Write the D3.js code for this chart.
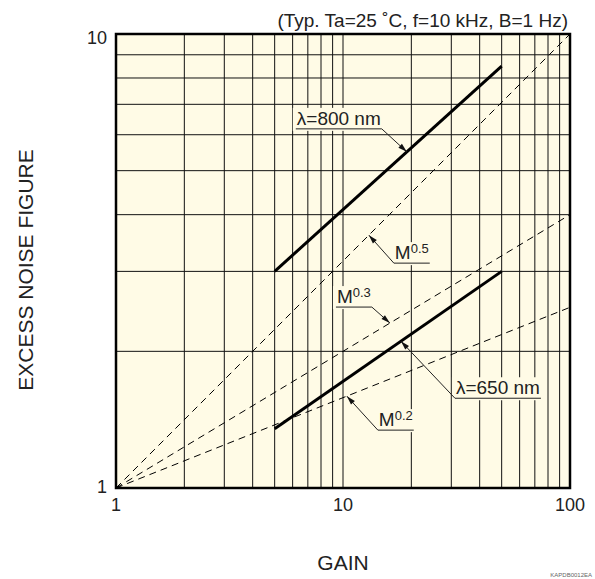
<!DOCTYPE html>
<html>
<head>
<meta charset="utf-8">
<script src="https://cdn.jsdelivr.net/npm/d3@7"></script>
<style>
body { margin: 0; background: #fff; }
svg { display: block; font-family: "Liberation Sans", Arial, sans-serif; }
</style>
</head>
<body>
<div id="chart"></div>
<script>
var gainTicks = [1, 10, 100];
var noiseTicks = [1, 10];
var gainGrid = [2, 3, 4, 5, 6, 7, 8, 9, 20, 30, 40, 50, 60, 70, 80, 90];
var noiseGrid = [2, 3, 4, 5, 6, 7, 8, 9];

// measured curves (gain -> excess noise figure)
var lineGain = [5, 50];
var noise800 = [3.0, 8.5];
var noise650 = [1.35, 3.0];

// reference curves M^x
var refGain = [1, 100];
var noiseM05 = [1, 10];
var noiseM03 = [1, 4.0];
var noiseM02 = [1, 2.5];

var width = 595,
    height = 579,
    margin = {top: 34, right: 25, bottom: 91, left: 116};
var plotW = width - margin.left - margin.right,
    plotH = height - margin.top - margin.bottom;

var BG = "#fffbe6";

var xScale = d3.scaleLog().domain([1, 100]).range([0, plotW]);
var yScale = d3.scaleLog().domain([1, 10]).range([plotH, 0]);

function pairs(gains, values) {
    return gains.map(function(g, i) { return {g: g, f: values[i]}; });
}

var curves = {
    "800": pairs(lineGain, noise800),
    "650": pairs(lineGain, noise650),
    "m05": pairs(refGain, noiseM05),
    "m03": pairs(refGain, noiseM03),
    "m02": pairs(refGain, noiseM02)
};

// label layout: where the arrow touches a curve, and text offset from there (px)
var notes = [
    {key: "800", main: "λ=800 nm", sup: "", gain: 19.1, dx: -110, dy: -27, side: "right"},
    {key: "m05", main: "M", sup: "0.5", gain: 13.0, dx: 26, dy: 24, side: "left"},
    {key: "m03", main: "M", sup: "0.3", gain: 16.1, dx: -53, dy: -20, side: "right"},
    {key: "650", main: "λ=650 nm", sup: "", gain: 18.0, dx: 55, dy: 53, side: "left"},
    {key: "m02", main: "M", sup: "0.2", gain: 10.4, dx: 32, dy: 30, side: "left"}
];

var line = d3.line()
    .x(function(d) { return xScale(d.g); })
    .y(function(d) { return yScale(d.f); });

var svg = d3.select("#chart")
    .append("svg")
    .attr("width", width)
    .attr("height", height);

var g = svg.append("g")
    .attr("transform", "translate(" + margin.left + "," + margin.top + ")");

g.append("rect")
    .attr("width", plotW)
    .attr("height", plotH)
    .attr("fill", BG);

// grid
g.selectAll(".vgrid")
    .data(gainGrid.concat([10]))
    .enter()
    .append("line")
    .attr("class", "vgrid")
    .attr("x1", function(d) { return xScale(d); })
    .attr("x2", function(d) { return xScale(d); })
    .attr("y1", 0)
    .attr("y2", plotH)
    .attr("stroke", "#111")
    .attr("stroke-width", 1);

g.selectAll(".hgrid")
    .data(noiseGrid)
    .enter()
    .append("line")
    .attr("class", "hgrid")
    .attr("x1", 0)
    .attr("x2", plotW)
    .attr("y1", function(d) { return yScale(d); })
    .attr("y2", function(d) { return yScale(d); })
    .attr("stroke", "#111")
    .attr("stroke-width", 1);

var maskLayer = g.append("g");

// dashed reference lines
g.selectAll(".ref")
    .data(["m05", "m03", "m02"])
    .enter()
    .append("path")
    .attr("class", "ref")
    .attr("d", function(k) { return line(curves[k]); })
    .attr("fill", "none")
    .attr("stroke", "#000")
    .attr("stroke-width", 1)
    .attr("stroke-dasharray", "7,5");

// measured lines
g.selectAll(".meas")
    .data(["800", "650"])
    .enter()
    .append("path")
    .attr("class", "meas")
    .attr("d", function(k) { return line(curves[k]); })
    .attr("fill", "none")
    .attr("stroke", "#000")
    .attr("stroke-width", 3);

// frame
g.append("rect")
    .attr("width", plotW)
    .attr("height", plotH)
    .attr("fill", "none")
    .attr("stroke", "#000")
    .attr("stroke-width", 2.5);

// axes labels
g.selectAll(".xlab")
    .data(gainTicks)
    .enter()
    .append("text")
    .attr("class", "xlab")
    .attr("x", function(d) { return xScale(d); })
    .attr("y", plotH + 23)
    .attr("text-anchor", "middle")
    .attr("font-size", 18)
    .attr("fill", "#222")
    .text(function(d) { return d; });

g.selectAll(".ylab")
    .data(noiseTicks)
    .enter()
    .append("text")
    .attr("class", "ylab")
    .attr("x", -9)
    .attr("y", function(d) { return yScale(d) + (d === 10 ? 10 : 5); })
    .attr("text-anchor", "end")
    .attr("font-size", 18)
    .attr("fill", "#222")
    .text(function(d) { return d; });

svg.append("text")
    .attr("x", margin.left + xScale(10))
    .attr("y", 570)
    .attr("text-anchor", "middle")
    .attr("font-size", 21)
    .attr("fill", "#222")
    .text("GAIN");

svg.append("text")
    .attr("transform", "translate(33,270) rotate(-90)")
    .attr("text-anchor", "middle")
    .attr("font-size", 21)
    .attr("fill", "#222")
    .text("EXCESS NOISE FIGURE");

svg.append("text")
    .attr("x", 568)
    .attr("y", 27)
    .attr("text-anchor", "end")
    .attr("font-size", 19)
    .attr("fill", "#222")
    .text("(Typ. Ta=25 ˚C, f=10 kHz, B=1 Hz)");

svg.append("text")
    .attr("x", 592)
    .attr("y", 577)
    .attr("text-anchor", "end")
    .attr("font-size", 6)
    .attr("fill", "#666")
    .text("KAPDB0012EA");

// point on a straight log-log segment, for arrow placement
function tipOf(note) {
    var c = curves[note.key];
    var t = (Math.log(note.gain) - Math.log(c[0].g)) / (Math.log(c[1].g) - Math.log(c[0].g));
    var lf = Math.log(c[0].f) + t * (Math.log(c[1].f) - Math.log(c[0].f));
    return {x: xScale(note.gain), y: yScale(Math.exp(lf))};
}

notes.forEach(function(n) {
    var tip = tipOf(n);
    var tx = tip.x + n.dx,
        ty = tip.y + n.dy;

    var txt = g.append("text")
        .attr("x", tx)
        .attr("y", ty)
        .attr("font-size", 19)
        .attr("fill", "#222");
    txt.append("tspan").text(n.main);
    if (n.sup) {
        txt.append("tspan")
            .attr("font-size", 13)
            .attr("dy", -6)
            .text(n.sup);
    }

    var w = txt.node().getBBox().width;

    maskLayer.append("rect")
        .attr("x", tx - 4)
        .attr("y", ty - 17)
        .attr("width", w + 8)
        .attr("height", 23)
        .attr("fill", BG);

    var uy = ty + 4,
        ux0 = tx - 1,
        ux1 = tx + w + 1;
    var sx = n.side === "right" ? ux1 : ux0;

    g.append("path")
        .attr("d", "M" + ux0 + "," + uy + "H" + ux1 + "M" + sx + "," + uy + "L" + tip.x + "," + tip.y)
        .attr("fill", "none")
        .attr("stroke", "#222")
        .attr("stroke-width", 1);

    var ang = Math.atan2(tip.y - uy, tip.x - sx);
    var len = 9, hw = 2.6;
    var bx = tip.x - len * Math.cos(ang),
        by = tip.y - len * Math.sin(ang);
    g.append("path")
        .attr("d", "M" + tip.x + "," + tip.y +
            "L" + (bx - hw * Math.sin(ang)) + "," + (by + hw * Math.cos(ang)) +
            "L" + (bx + hw * Math.sin(ang)) + "," + (by - hw * Math.cos(ang)) + "Z")
        .attr("fill", "#111");
});
</script>
</body>
</html>
